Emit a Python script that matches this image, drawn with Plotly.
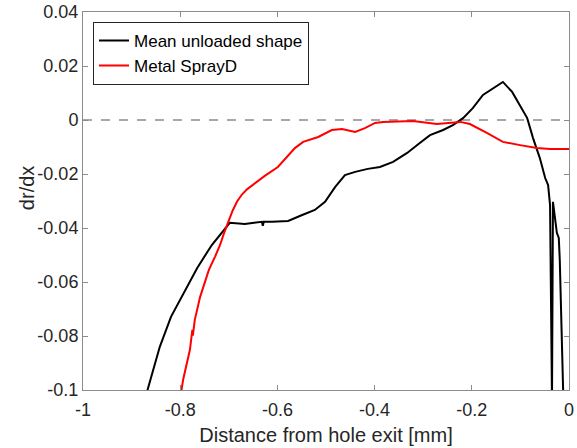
import plotly.graph_objects as go

# Mean unloaded shape (black)
mean_x = [-0.872, -0.868, -0.862, -0.842, -0.819, -0.800, -0.765, -0.735, -0.714, -0.698,
          -0.667, -0.632, -0.630, -0.628, -0.611, -0.578, -0.549, -0.523, -0.502, -0.481,
          -0.461, -0.440, -0.414, -0.389, -0.362, -0.333, -0.307, -0.286, -0.259, -0.239,
          -0.218, -0.198, -0.177, -0.156, -0.136, -0.117, -0.101, -0.086, -0.074, -0.060,
          -0.049, -0.043, -0.039, -0.037, -0.035, -0.033, -0.025, -0.021, -0.019, -0.012,
          -0.011]
mean_y = [-0.103, -0.1006, -0.0962, -0.0840, -0.0729, -0.0666, -0.0548, -0.0463, -0.0414, -0.0381,
          -0.0385, -0.0377, -0.0392, -0.0377, -0.0377, -0.0374, -0.0352, -0.0333, -0.0303, -0.0248,
          -0.0204, -0.0192, -0.0181, -0.0174, -0.0155, -0.0122, -0.0085, -0.0056, -0.0037, -0.0019,
          0.0007, 0.0044, 0.0093, 0.0118, 0.0141, 0.0104, 0.0056, 0.0007, -0.0067, -0.0141,
          -0.0215, -0.0241, -0.0315, -0.0666, -0.1036, -0.0303, -0.0418, -0.0437, -0.0518, -0.1006,
          -0.104]

# Metal SprayD (red)
spray_x = [-0.800, -0.798, -0.794, -0.780, -0.776, -0.775, -0.774, -0.770, -0.759, -0.741,
           -0.728, -0.718, -0.710, -0.701, -0.692, -0.683, -0.673, -0.662, -0.646, -0.626,
           -0.599, -0.578, -0.564, -0.547, -0.516, -0.488, -0.467, -0.440, -0.420, -0.399,
           -0.383, -0.321, -0.272, -0.224, -0.204, -0.169, -0.136, -0.101, -0.066, -0.039,
           0.000]
spray_y = [-0.103, -0.1006, -0.0962, -0.0851, -0.0803, -0.0777, -0.0799, -0.0740, -0.0655, -0.0555,
           -0.0505, -0.0463, -0.0420, -0.0375, -0.0335, -0.0302, -0.0276, -0.0256, -0.0233, -0.0207,
           -0.0174, -0.0130, -0.0104, -0.0081, -0.0063, -0.0037, -0.0033, -0.0044, -0.0030, -0.0011,
           -0.0007, -0.0004, -0.0015, -0.0007, -0.0015, -0.0048, -0.0081, -0.0093, -0.0104, -0.0107,
           -0.0107]

x_ticks = [-1, -0.8, -0.6, -0.4, -0.2, 0]
x_labels = ["-1", "-0.8", "-0.6", "-0.4", "-0.2", "0"]
y_ticks = [-0.1, -0.08, -0.06, -0.04, -0.02, 0, 0.02, 0.04]
y_labels = ["-0.1", "-0.08", "-0.06", "-0.04", "-0.02", "0", "0.02", "0.04"]

FONT = "Liberation Sans, Arial, Helvetica"

fig = go.Figure()
fig.add_trace(go.Scatter(x=mean_x, y=mean_y, mode="lines", name="Mean unloaded shape",
                         line=dict(color="black", width=2)))
fig.add_trace(go.Scatter(x=spray_x, y=spray_y, mode="lines", name="Metal SprayD",
                         line=dict(color="red", width=2)))

fig.add_shape(type="line", xref="x", yref="y", x0=-1, x1=0, y0=0, y1=0,
              line=dict(color="#8c8c8c", width=1.3, dash="dash"), layer="below")

axis_common = dict(showline=True, linecolor="#8c8c8c", linewidth=1, mirror="ticks",
                   ticks="inside", ticklen=5, tickcolor="#8c8c8c", showgrid=False,
                   zeroline=False, tickfont=dict(family=FONT, size=18, color="#262626"))

fig.update_xaxes(range=[-1, 0], tickvals=x_ticks, ticktext=x_labels, ticklabelstandoff=3,
                 title=dict(text="Distance from hole exit [mm]", standoff=9,
                            font=dict(family=FONT, size=20, color="#262626")),
                 **axis_common)
fig.update_yaxes(range=[-0.1, 0.04], tickvals=y_ticks, ticktext=y_labels, **axis_common)

fig.add_annotation(text="dr/dx", xref="paper", yref="paper", x=0, y=0.534,
                   xanchor="center", yanchor="middle", xshift=-56, textangle=-90,
                   showarrow=False, font=dict(family=FONT, size=20, color="#262626"))

fig.update_layout(width=577, height=448,
                  margin=dict(l=83, r=8, t=12, b=58, autoexpand=False),
                  paper_bgcolor="white", plot_bgcolor="white",
                  legend=dict(x=0.0206, y=0.974, xanchor="left", yanchor="top",
                              bgcolor="white", bordercolor="#262626", borderwidth=1,
                              font=dict(family=FONT, size=17, color="black"),
                              tracegroupgap=0, itemwidth=30),
                  showlegend=True)

fig.write_html("out.html")
